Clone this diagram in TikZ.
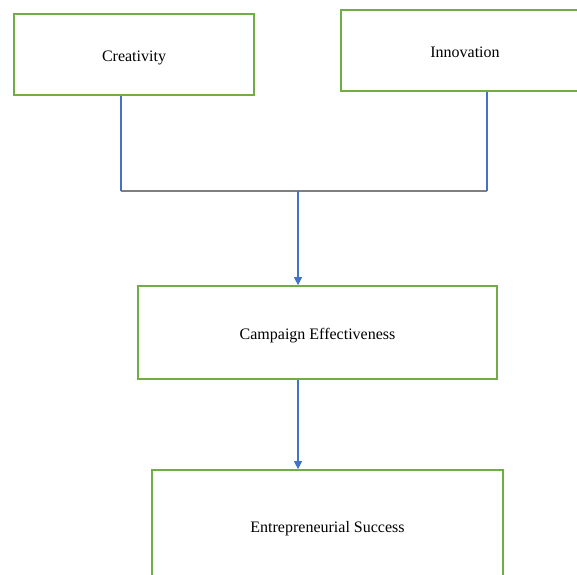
\documentclass[tikz,border=0pt]{standalone}
\usepackage{fontspec}
\setmainfont{Liberation Serif}
\usetikzlibrary{calc,arrows.meta}
\definecolor{boxgreen}{RGB}{112,173,71}
\definecolor{lineblue}{RGB}{68,114,196}
\definecolor{linegray}{RGB}{127,127,127}
\tikzset{
	factor/.style={draw=boxgreen, line width=1.7pt, fill=white, inner sep=0pt, text height=13.5pt, text depth=0pt, font=\fontsize{16}{19}\selectfont},
	link/.style={color=lineblue, line width=1.1pt},
	flow/.style={link, -{Triangle[length=8pt,width=8pt]}},
}
\begin{document}
\begin{tikzpicture}[x=1pt,y=-1pt]
\useasboundingbox (0,0) rectangle (577,574);
\clip (0,0) rectangle (577,574);
\node[factor, minimum width=240pt, minimum height=81pt] (creat) at (134,54.5) {Creativity};
\node[factor, minimum width=248pt, minimum height=81pt] (innov) at (465,50.5) {Innovation};
\node[factor, minimum width=359pt, minimum height=93pt] (camp) at (317.5,332.5) {Campaign Effectiveness};
\node[factor, minimum width=351pt, minimum height=112pt] (succ) at (327.5,526) {Entrepreneurial Success};
\coordinate (cl) at (121,191);
\coordinate (il) at (487,191);
\coordinate (join) at (298,191);
\draw[linegray, line width=1.4pt] (cl) -- (il);
\draw[link] (creat.south -| cl) -- (cl);
\draw[link] (innov.south -| il) -- (il);
\draw[flow] (join) -- (camp.north -| join);
\draw[flow] (camp.south -| join) -- (succ.north -| join);
\end{tikzpicture}
\end{document}
